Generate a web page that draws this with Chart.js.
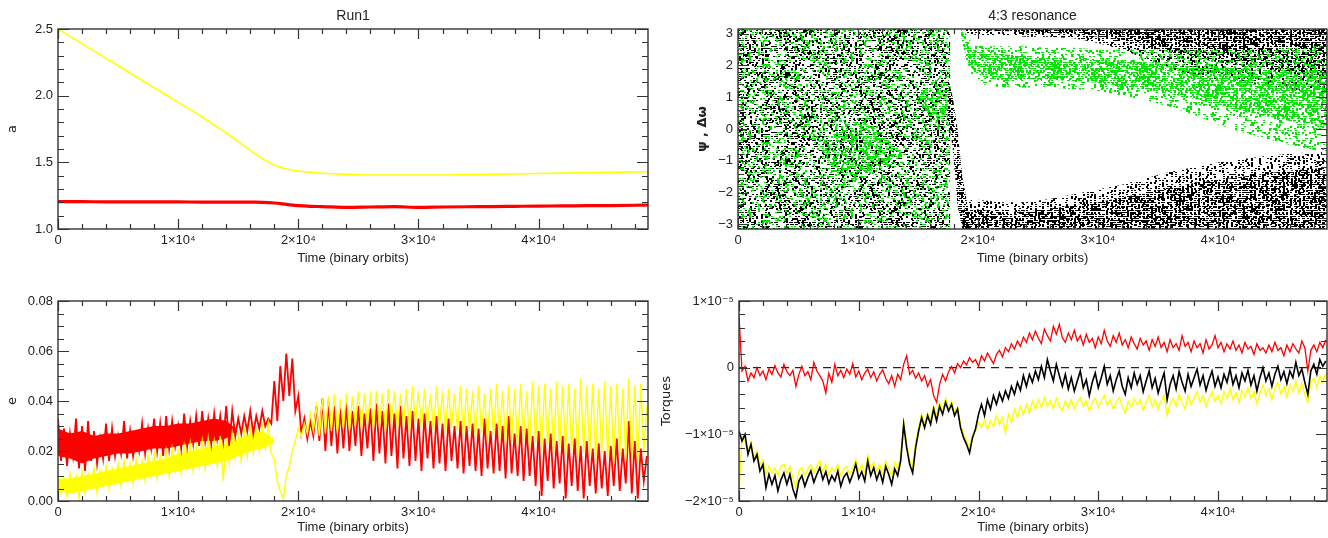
<!DOCTYPE html>
<html><head><meta charset="utf-8">
<script src="https://cdn.jsdelivr.net/npm/chart.js@4.4.1/dist/chart.umd.min.js"></script>
<style>
html,body{margin:0;padding:0;background:#fff;}
#wrap{position:relative;width:1328px;height:538px;overflow:hidden;background:#fff;}
canvas{position:absolute;}
</style></head><body><div id="wrap">
<canvas id="c1" width="664" height="269" style="left:0;top:0"></canvas>
<canvas id="c3" width="664" height="269" style="left:0;top:269px"></canvas>
<canvas id="c2" width="678" height="269" style="left:650px;top:0"></canvas>
<canvas id="c4" width="678" height="269" style="left:650px;top:269px"></canvas>
</div>
<script>
// ---------------- DATA ----------------
const xTickValues = [0, 10000, 20000, 30000, 40000];
const T_MAX = 49100;

// Panel 1: semi-major axis a
const aTime   = [0,2000,4000,6000,8000,10000,12000,13000,14000,15000,16000,17000,18000,19000,20000,21000,22000,24000,26000,28000,30000,32000,34000,36000,38000,40000,42000,44000,46000,48000,49100];
const aYellow = [2.50,2.39,2.28,2.17,2.06,1.95,1.84,1.78,1.72,1.655,1.59,1.53,1.48,1.45,1.435,1.425,1.418,1.41,1.405,1.405,1.405,1.405,1.408,1.41,1.413,1.416,1.419,1.422,1.425,1.428,1.43];
const aRed    = [1.205,1.205,1.204,1.204,1.203,1.203,1.202,1.202,1.202,1.202,1.201,1.20,1.195,1.185,1.175,1.17,1.168,1.162,1.165,1.168,1.162,1.165,1.167,1.168,1.17,1.172,1.173,1.175,1.176,1.178,1.18];
const aTicks = [1.0, 1.5, 2.0, 2.5];

// Panels 3 & 4 are sampled every 250 binary orbits
const sampleStep = 250;
const eRed = [
0.033,0.016,0.029,0.014,0.027,0.018,0.033,0.013,0.030,0.012,0.032,0.016,0.028,0.015,0.025,0.017,0.031,0.016,0.029,0.018,
0.026,0.019,0.032,0.017,0.028,0.018,0.026,0.020,0.031,0.019,0.029,0.021,0.033,0.020,0.031,0.018,0.034,0.021,0.032,0.022,
0.030,0.021,0.035,0.022,0.032,0.023,0.034,0.022,0.036,0.024,0.033,0.023,0.035,0.025,0.034,0.024,0.038,0.022,0.036,0.026,
0.033,0.027,0.034,0.028,0.036,0.027,0.034,0.029,0.036,0.030,0.033,0.031,0.048,0.032,0.054,0.040,0.059,0.042,0.057,0.036,
0.042,0.027,0.033,0.025,0.032,0.026,0.038,0.024,0.041,0.020,0.040,0.022,0.038,0.019,0.037,0.021,0.039,0.020,0.036,0.022,
0.038,0.018,0.035,0.021,0.037,0.016,0.039,0.019,0.036,0.015,0.039,0.018,0.035,0.013,0.038,0.017,0.034,0.014,0.036,0.016,
0.033,0.012,0.035,0.017,0.032,0.013,0.034,0.015,0.031,0.012,0.033,0.016,0.030,0.013,0.032,0.011,0.030,0.014,0.031,0.012,
0.029,0.010,0.033,0.013,0.028,0.011,0.031,0.012,0.030,0.009,0.034,0.011,0.027,0.010,0.030,0.008,0.029,0.010,0.026,0.006,
0.028,0.002,0.025,0.008,0.027,0.005,0.024,0.007,0.026,0.001,0.023,0.006,0.025,0.004,0.022,0.001,0.024,0.006,0.021,0.003,
0.023,0.005,0.020,0.002,0.022,0.006,0.025,0.004,0.021,0.007,0.032,0.003,0.024,0.001,0.021,0.008,0.018];
const eYellow = [
0.010,0.003,0.009,0.002,0.011,0.004,0.010,0.001,0.012,0.003,0.011,0.005,0.013,0.003,0.012,0.006,0.014,0.005,0.013,0.007,
0.015,0.006,0.016,0.008,0.015,0.007,0.017,0.009,0.016,0.008,0.018,0.010,0.019,0.009,0.018,0.011,0.020,0.010,0.021,0.012,
0.020,0.011,0.022,0.013,0.023,0.012,0.022,0.014,0.024,0.013,0.025,0.015,0.024,0.014,0.026,0.008,0.025,0.015,0.027,0.017,
0.026,0.016,0.028,0.018,0.029,0.019,0.028,0.020,0.030,0.021,0.031,0.019,0.017,0.008,0.004,0.001,0.010,0.014,0.020,0.024,
0.029,0.026,0.031,0.027,0.035,0.028,0.038,0.026,0.041,0.027,0.042,0.028,0.043,0.027,0.041,0.029,0.043,0.028,0.042,0.030,
0.044,0.029,0.043,0.031,0.042,0.029,0.044,0.030,0.043,0.028,0.045,0.031,0.044,0.029,0.043,0.030,0.045,0.028,0.046,0.031,
0.044,0.029,0.045,0.030,0.043,0.028,0.046,0.030,0.044,0.027,0.045,0.029,0.043,0.028,0.046,0.026,0.045,0.028,0.044,0.025,
0.046,0.027,0.043,0.024,0.045,0.026,0.047,0.025,0.044,0.023,0.046,0.024,0.045,0.022,0.047,0.024,0.044,0.021,0.048,0.023,
0.046,0.020,0.047,0.022,0.045,0.019,0.048,0.021,0.046,0.018,0.047,0.020,0.045,0.017,0.049,0.019,0.046,0.018,0.047,0.016,
0.045,0.019,0.048,0.017,0.046,0.015,0.047,0.018,0.045,0.016,0.049,0.017,0.046,0.015,0.047,0.019,0.038];
// solid cores of the fast-oscillating early phase of e
const eRedBandT  = [0,1000,2000,3000,4000,5000,6000,7000,8000,9000,10000,11000,12000,13000,14000,14800];
const eRedBandHi = [0.029,0.027,0.028,0.026,0.027,0.027,0.028,0.029,0.030,0.030,0.031,0.031,0.032,0.033,0.032,0.029];
const eRedBandLo = [0.018,0.017,0.015,0.017,0.018,0.019,0.019,0.020,0.021,0.021,0.022,0.023,0.024,0.024,0.025,0.028];
const eYelBandT  = [0,1000,2000,3000,4000,5000,6000,7000,8000,9000,10000,11000,12000,13000,14000,15000,16000,17000,17900];
const eYelBandHi = [0.009,0.009,0.010,0.011,0.012,0.013,0.014,0.015,0.016,0.017,0.019,0.020,0.021,0.022,0.023,0.025,0.027,0.028,0.025];
const eYelBandLo = [0.004,0.003,0.004,0.005,0.006,0.007,0.008,0.009,0.010,0.011,0.012,0.013,0.014,0.015,0.016,0.018,0.020,0.021,0.023];
const eTicks = [0, 0.02, 0.04, 0.06, 0.08];

// Torques in units of 1e-5
const torqueRed = [
0.78,-0.05,0.02,-0.20,-0.08,-0.15,0.00,-0.12,-0.05,-0.18,-0.02,-0.10,0.03,-0.08,-0.14,0.05,-0.06,-0.12,-0.04,-0.28,
-0.10,0.02,-0.12,-0.06,-0.18,0.08,-0.05,-0.12,-0.20,-0.38,-0.08,-0.22,0.05,-0.12,-0.04,-0.15,-0.02,-0.10,0.06,-0.14,
-0.05,-0.18,-0.08,-0.02,-0.15,-0.06,-0.20,-0.10,-0.03,-0.16,-0.24,-0.12,-0.28,-0.10,-0.18,0.05,0.18,-0.10,-0.04,-0.16,
-0.08,-0.20,-0.12,-0.28,-0.18,-0.42,-0.52,-0.25,-0.10,-0.20,-0.06,0.02,-0.08,0.06,0.00,0.10,0.04,0.15,0.08,0.12,
0.02,0.18,0.10,0.22,0.14,0.06,0.20,0.26,0.16,0.30,0.24,0.36,0.28,0.40,0.32,0.46,0.38,0.52,0.42,0.55,
0.44,0.36,0.58,0.48,0.40,0.62,0.50,0.65,0.45,0.38,0.52,0.42,0.56,0.40,0.48,0.34,0.50,0.38,0.44,0.30,
0.46,0.36,0.56,0.40,0.32,0.48,0.38,0.52,0.34,0.42,0.30,0.46,0.36,0.28,0.44,0.34,0.40,0.26,0.42,0.32,
0.46,0.30,0.38,0.24,0.42,0.30,0.36,0.26,0.48,0.32,0.38,0.24,0.40,0.30,0.36,0.22,0.42,0.28,0.34,0.48,
0.30,0.38,0.24,0.36,0.28,0.40,0.26,0.34,0.22,0.38,0.28,0.32,0.20,0.36,0.26,0.30,0.22,0.34,0.24,0.38,
0.26,0.30,0.18,0.34,0.24,0.36,0.28,0.22,0.40,0.30,-0.05,0.26,0.34,0.24,0.38,0.30,0.42];
const torqueBlack = [
-0.95,-1.10,-1.00,-1.30,-1.15,-1.40,-1.30,-1.55,-1.45,-1.80,-1.60,-1.75,-1.62,-1.85,-1.68,-1.58,-1.75,-1.60,-1.82,-1.95,
-1.70,-1.62,-1.78,-1.65,-1.55,-1.72,-1.60,-1.50,-1.68,-1.56,-1.74,-1.62,-1.70,-1.55,-1.78,-1.64,-1.58,-1.72,-1.60,-1.45,
-1.66,-1.56,-1.70,-1.40,-1.62,-1.50,-1.68,-1.55,-1.72,-1.48,-1.60,-1.75,-1.52,-1.62,-1.40,-0.85,-1.20,-1.45,-1.58,-1.20,
-0.95,-0.75,-0.90,-0.72,-0.85,-0.62,-0.80,-0.58,-0.70,-0.52,-0.65,-0.55,-0.72,-0.62,-0.90,-1.05,-1.15,-1.28,-1.05,-0.92,
-0.70,-0.55,-0.72,-0.48,-0.62,-0.42,-0.55,-0.38,-0.50,-0.35,-0.46,-0.28,-0.40,-0.22,-0.34,-0.12,-0.28,-0.10,-0.22,-0.05,
-0.18,0.02,-0.15,0.12,-0.05,-0.20,0.05,-0.12,-0.28,-0.10,-0.32,-0.15,-0.35,-0.20,-0.05,-0.30,-0.18,-0.42,-0.22,-0.08,
-0.30,-0.15,0.02,-0.25,-0.12,-0.35,-0.18,-0.05,-0.28,-0.40,-0.15,-0.30,-0.08,-0.25,-0.12,-0.36,-0.20,-0.05,-0.30,-0.16,
-0.38,-0.22,-0.08,-0.48,-0.25,-0.12,-0.32,-0.06,-0.22,-0.35,-0.10,-0.28,-0.15,-0.02,-0.26,-0.12,-0.34,-0.18,-0.05,-0.28,
-0.14,-0.30,-0.10,-0.22,-0.02,-0.25,-0.12,-0.30,-0.08,-0.20,-0.04,-0.26,-0.12,-0.35,-0.15,0.00,-0.20,-0.08,-0.28,-0.10,
0.02,-0.18,-0.06,-0.24,-0.05,-0.15,0.08,-0.12,-0.02,-0.22,-0.40,-0.05,0.05,-0.10,0.12,0.02,0.10];
const torqueYellow = [
-1.90,-1.05,-1.10,-1.25,-1.12,-1.35,-1.25,-1.45,-1.38,-1.60,-1.48,-1.58,-1.50,-1.62,-1.48,-1.45,-1.58,-1.48,-1.65,-1.80,
-1.55,-1.50,-1.62,-1.52,-1.45,-1.58,-1.48,-1.40,-1.55,-1.45,-1.60,-1.50,-1.56,-1.45,-1.62,-1.52,-1.48,-1.60,-1.50,-1.38,
-1.55,-1.45,-1.58,-1.32,-1.50,-1.42,-1.55,-1.45,-1.58,-1.40,-1.50,-1.62,-1.42,-1.52,-1.32,-0.82,-1.12,-1.38,-1.48,-1.12,
-0.90,-0.70,-0.85,-0.68,-0.80,-0.58,-0.72,-0.52,-0.62,-0.46,-0.60,-0.50,-0.66,-0.60,-0.85,-1.00,-1.10,-1.20,-1.00,-0.95,
-0.82,-0.90,-0.78,-0.92,-0.80,-0.88,-0.72,-0.85,-0.75,-0.98,-0.70,-0.82,-0.62,-0.75,-0.58,-0.70,-0.55,-0.68,-0.50,-0.62,
-0.48,-0.60,-0.45,-0.58,-0.50,-0.62,-0.46,-0.58,-0.65,-0.50,-0.60,-0.48,-0.62,-0.52,-0.45,-0.58,-0.50,-0.65,-0.52,-0.46,
-0.60,-0.50,-0.42,-0.56,-0.48,-0.62,-0.52,-0.45,-0.58,-0.68,-0.50,-0.60,-0.46,-0.56,-0.48,-0.64,-0.52,-0.42,-0.58,-0.48,
-0.62,-0.50,-0.42,-0.72,-0.54,-0.46,-0.58,-0.40,-0.52,-0.62,-0.42,-0.55,-0.46,-0.36,-0.52,-0.42,-0.58,-0.46,-0.36,-0.50,
-0.42,-0.54,-0.36,-0.46,-0.32,-0.48,-0.38,-0.52,-0.34,-0.44,-0.30,-0.46,-0.36,-0.54,-0.38,-0.26,-0.42,-0.32,-0.48,-0.30,
-0.22,-0.40,-0.28,-0.44,-0.26,-0.36,-0.20,-0.38,-0.24,-0.40,-0.52,-0.22,-0.16,-0.30,-0.12,-0.22,-0.08];
const torqueTicks = [-2, -1, 0, 1];

// Panel 2: extents of the dot clouds of psi (black) and delta-omega (green), in radians
const cloudT = [0, 17700];
const gPatch1T = [7000, 8500, 10000, 11500, 13000];
const gPatch1Hi = [-0.5, 0.1, 0.3, 0.0, -0.5];
const gPatch1Lo = [-0.9, -1.4, -1.6, -1.3, -0.9];
const gPatch2T = [15000, 16000, 17000, 17700];
const gPatch2Hi = [1.0, 1.5, 1.6, 1.3];
const gPatch2Lo = [0.7, 0.4, 0.3, 0.4];
const trailT  = [17500, 17900, 18300, 18700, 19100];
const trailHi = [1.6, 1.0, 0.0, -1.5, -2.3];
const trailLo = [0.4, -0.6, -2.4, -3.1416, -3.1416];
const lowT  = [18700,19500,20500,22000,24000,26000,28000,30000,32000,34000,36000,38000,40000,42000,44000,46000,48000,49100];
const lowHi = [-2.6,-2.2,-2.25,-2.3,-2.3,-2.2,-2.05,-1.9,-1.75,-1.55,-1.35,-1.2,-1.05,-0.95,-0.85,-0.78,-0.72,-0.7];
const lowCoreHi = [-2.8,-2.5,-2.55,-2.6,-2.6,-2.5,-2.4,-2.3,-2.15,-2.0,-1.85,-1.7,-1.6,-1.5,-1.4,-1.3,-1.25,-1.2];
const upT  = [18900,20000,22000,24000,26000,28000,30000,32000,33000,34000,36000,38000,40000,42000,44000,46000,48000,49100];
const upLo = [3.0,2.95,2.95,2.9,2.9,2.85,2.7,2.5,2.35,2.2,1.9,1.7,1.55,1.45,1.35,1.25,1.15,1.1];
const upCoreLo = [3.12,3.1,3.08,3.05,3.02,2.98,2.9,2.8,2.7,2.6,2.4,2.25,2.1,2.0,1.9,1.8,1.7,1.65];
const grT  = [18600,19000,19500,20500,22000,24000,26000,28000,30000,32000,34000,36000,38000,40000,42000,44000,46000,48000,49100];
const grHi = [3.14,3.0,2.7,2.6,2.6,2.6,2.55,2.55,2.5,2.5,2.5,2.5,2.5,2.5,2.5,2.5,2.55,2.6,2.6];
const grLo = [2.9,2.2,1.7,1.4,1.3,1.3,1.3,1.25,1.2,1.05,0.9,0.7,0.45,0.15,-0.1,-0.3,-0.5,-0.65,-0.7];
const grCoreHi = [3.1,2.9,2.5,2.4,2.35,2.3,2.25,2.2,2.2,2.15,2.1,2.05,2.0,1.95,1.9,1.85,1.8,1.8,1.8];
const grCoreLo = [2.95,2.3,1.9,1.6,1.55,1.55,1.55,1.5,1.45,1.35,1.25,1.1,0.95,0.75,0.55,0.4,0.25,0.15,0.1];
const psiTicks = [-3,-2,-1,0,1,2,3];

// ---------------- STYLE / HELPERS ----------------
Chart.defaults.font.family = "'Liberation Sans','DejaVu Sans',Arial,sans-serif";
Chart.defaults.font.size = 13;
Chart.defaults.color = '#222';
Chart.defaults.animation = false;

const PI = Math.PI;
const sampleTimes = eRed.map((_, i) => i * sampleStep);
const pts = (xs, ys) => ys.map((y, i) => ({x: xs[i], y}));

function xAxis(h){
  return {type:'linear', min:0, max:T_MAX,
    grid:{display:false, drawTicks:false}, border:{display:false},
    ticks:{padding:4, autoSkip:false, maxRotation:0, color:'#222',
      callback:v => v === 0 ? '0' : (v/1e4) + '×10⁴'},
    afterBuildTicks: s => { s.ticks = xTickValues.map(v => ({value:v})); },
    afterFit: s => { s.height = h; }};
}
function yAxis(w, min, max, vals, fmt){
  return {type:'linear', min, max,
    grid:{display:false, drawTicks:false}, border:{display:false},
    ticks:{padding:5, autoSkip:false, color:'#222', callback:v => fmt(v)},
    afterBuildTicks: s => { s.ticks = vals.map(v => ({value:v})); },
    afterFit: s => { s.width = w; }};
}

const idl = {
  id:'idl',
  afterDatasetsDraw(chart, args, o){
    const {ctx, chartArea:a, scales:{x, y}} = chart;
    ctx.save();
    ctx.strokeStyle = '#333'; ctx.lineWidth = 1.4;
    ctx.strokeRect(a.left, a.top, a.right - a.left, a.bottom - a.top);
    ctx.beginPath(); ctx.lineWidth = 1.2;
    for (let k = 0; k * o.xMinor <= x.max; k++){
      const px = Math.round(x.getPixelForValue(k * o.xMinor)) + 0.5;
      const L = (k % o.xRatio === 0) ? 10 : 5;
      ctx.moveTo(px, a.bottom); ctx.lineTo(px, a.bottom - L);
      ctx.moveTo(px, a.top); ctx.lineTo(px, a.top + L);
    }
    const k0 = Math.ceil(y.min / o.yMinor - 1e-6), k1 = Math.floor(y.max / o.yMinor + 1e-6);
    for (let k = k0; k <= k1; k++){
      const py = Math.round(y.getPixelForValue(k * o.yMinor)) + 0.5;
      const L = (((k % o.yRatio) + o.yRatio) % o.yRatio === 0) ? 11 : 6;
      ctx.moveTo(a.left, py); ctx.lineTo(a.left + L, py);
      ctx.moveTo(a.right, py); ctx.lineTo(a.right - L, py);
    }
    ctx.stroke();
    ctx.fillStyle = '#222'; ctx.textAlign = 'center'; ctx.textBaseline = 'middle';
    const cx = (a.left + a.right) / 2, cy = (a.top + a.bottom) / 2;
    if (o.title){ ctx.font = "14px 'Liberation Sans', Arial, sans-serif"; ctx.fillText(o.title, cx, o.titleY); }
    ctx.font = "13px 'Liberation Sans', Arial, sans-serif";
    ctx.fillText(o.xTitle, cx, o.xTitleY);
    ctx.translate(o.yTitleX, cy); ctx.rotate(-PI/2);
    ctx.font = (o.yBold ? 'bold ' : '') + "13px 'DejaVu Sans', 'Liberation Sans', sans-serif";
    ctx.fillText(o.yTitle, 0, 0);
    ctx.restore();
  }
};

function orderBottomUp(list){ list.forEach((d, i) => { d.order = list.length - i; }); return list; }
function lineDs(data, color, width){
  return {data, borderColor:color, borderWidth:width, pointRadius:0, tension:0, fill:false};
}
function area(data, fill, bg){
  return {data, fill, backgroundColor:bg, borderWidth:0, borderColor:'rgba(0,0,0,0)', pointRadius:0, tension:0};
}
const NONE = 'rgba(0,0,0,0)';
function baseOptions(pad, plug){
  return {responsive:false, animation:false, devicePixelRatio:1,
    layout:{padding:pad},
    plugins:{legend:{display:false}, tooltip:{enabled:false}, idl:plug}};
}

// ---------------- PANEL 1: a ----------------
new Chart(document.getElementById('c1'), {
  type:'line',
  data:{datasets: orderBottomUp([
    Object.assign(lineDs(pts(aTime, aYellow), '#ffff00', 1.6), {cubicInterpolationMode:'monotone'}),
    Object.assign(lineDs(pts(aTime, aRed), '#ff0000', 3.2), {cubicInterpolationMode:'monotone'})
  ])},
  options: Object.assign(baseOptions({left:0, top:29, right:16, bottom:0},
    {xMinor:2000, xRatio:5, yMinor:0.1, yRatio:5, title:'Run1', titleY:16,
     xTitle:'Time (binary orbits)', xTitleY:258, yTitle:'a', yTitleX:13}),
    {scales:{x:xAxis(40), y:yAxis(58, 1.0, 2.5, aTicks, v => v.toFixed(1))}}),
  plugins:[idl]
});

// ---------------- PANEL 3: e ----------------
new Chart(document.getElementById('c3'), {
  type:'line',
  data:{datasets: orderBottomUp([
    area(pts(eYelBandT, eYelBandHi), '+1', '#ffff00'), area(pts(eYelBandT, eYelBandLo), false, NONE),
    area(pts(eRedBandT, eRedBandHi), '+1', '#ff0000'), area(pts(eRedBandT, eRedBandLo), false, NONE),
    lineDs(pts(sampleTimes, eRed), '#ff0000', 1.8),
    lineDs(pts(sampleTimes, eYellow), '#ffff00', 1.4)
  ])},
  options: Object.assign(baseOptions({left:0, top:32, right:16, bottom:0},
    {xMinor:2000, xRatio:5, yMinor:0.005, yRatio:4,
     xTitle:'Time (binary orbits)', xTitleY:258, yTitle:'e', yTitleX:13}),
    {scales:{x:xAxis(37), y:yAxis(58, 0, 0.08, eTicks, v => v.toFixed(2))}}),
  plugins:[idl]
});

// ---------------- PANEL 4: torques ----------------
new Chart(document.getElementById('c4'), {
  type:'line',
  data:{datasets: orderBottomUp([
    Object.assign(lineDs([{x:0,y:0},{x:T_MAX,y:0}], '#222', 1.2), {borderDash:[8,6]}),
    lineDs(pts(sampleTimes, torqueRed), '#ff0000', 1.3),
    lineDs(pts(sampleTimes, torqueYellow), '#ffff00', 1.4),
    lineDs(pts(sampleTimes, torqueBlack), '#000000', 1.6)
  ])},
  options: Object.assign(baseOptions({left:0, top:32, right:1, bottom:0},
    {xMinor:2000, xRatio:5, yMinor:0.2, yRatio:5,
     xTitle:'Time (binary orbits)', xTitleY:258, yTitle:'Torques', yTitleX:17}),
    {scales:{x:xAxis(37), y:yAxis(89, -2, 1, torqueTicks,
      v => v === 0 ? '0' : (v < 0 ? '−' : '') + Math.abs(v) + '×10⁻⁵')}}),
  plugins:[idl]
});

// ---------------- PANEL 2: resonant angles ----------------
function hash(x, y, s){
  let n = Math.imul(x, 73856093) ^ Math.imul(y, 19349663) ^ Math.imul(s, 83492791);
  n = Math.imul(n ^ (n >>> 13), 1274126177); n ^= n >>> 16;
  return (n >>> 0) / 4294967296;
}
const ctx2 = document.getElementById('c2').getContext('2d');
// speckle texture used as a fill style for the dot clouds
function texture(color, w, h, seed, density, stripe){
  const c = document.createElement('canvas'); c.width = w; c.height = h;
  const g = c.getContext('2d'); g.fillStyle = color;
  for (let yy = 0; yy < h; yy += 2) for (let xx = 0; xx < w; xx += 2){
    let d = density;
    if (stripe) d = (xx % stripe[0]) < stripe[1] ? density : density * stripe[2];
    const ox = hash(xx + 5, yy + 1, seed) < 0.5 ? 0 : 1;
    if (hash(xx, yy, seed) < d) g.fillRect(xx + ox, yy, 2, hash(xx + 2, yy + 9, seed) < 0.6 ? 1 : 2);
  }
  return ctx2.createPattern(c, 'repeat');
}
const texBlack   = texture('#000', 94, 86, 3, 0.44);
const texGreen   = texture('#00e400', 102, 78, 11, 0.22);
const texGreenD  = texture('#00e400', 90, 70, 17, 0.45);
const texBlackD  = texture('#000', 88, 74, 23, 0.75);
const texStripe  = texture('#000', 96, 90, 29, 0.65, [4, 2, 0.15]);
const texStripeD = texture('#000', 92, 84, 31, 0.85, [4, 2, 0.45]);
const texGreenB  = texture('#00e400', 98, 82, 37, 0.32);
const texGreenC  = texture('#00e400', 86, 76, 41, 0.6);

const p2 = [];
p2.push(area(pts(cloudT, [PI, PI]), {value:-PI}, texBlack));
p2.push(area(pts(cloudT, [PI, PI]), {value:-PI}, texGreen));
p2.push(area(pts(gPatch1T, gPatch1Hi), '+1', texGreenD), area(pts(gPatch1T, gPatch1Lo), false, NONE));
p2.push(area(pts(gPatch2T, gPatch2Hi), '+1', texGreenD), area(pts(gPatch2T, gPatch2Lo), false, NONE));
p2.push(area(pts(trailT, trailHi), '+1', texBlackD), area(pts(trailT, trailLo), false, NONE));
p2.push(area(pts(lowT, lowHi), {value:-PI}, texStripe));
p2.push(area(pts(lowT, lowCoreHi), {value:-PI}, texStripeD));
p2.push(area(pts(upT, upLo), {value:PI}, texStripe));
p2.push(area(pts(upT, upCoreLo), {value:PI}, texStripeD));
p2.push(area(pts(grT, grHi), '+1', texGreenB), area(pts(grT, grLo), false, NONE));
p2.push(area(pts(grT, grCoreHi), '+1', texGreenC), area(pts(grT, grCoreLo), false, NONE));

new Chart(ctx2, {
  type:'line',
  data:{datasets: orderBottomUp(p2)},
  options: Object.assign(baseOptions({left:0, top:29, right:1, bottom:0},
    {xMinor:2000, xRatio:5, yMinor:0.2, yRatio:5, title:'4:3 resonance', titleY:16,
     xTitle:'Time (binary orbits)', xTitleY:258, yTitle:'ψ , Δω', yTitleX:53, yBold:true}),
    {scales:{x:xAxis(40), y:yAxis(88, -PI, PI, psiTicks, v => String(v).replace('-', '−'))}}),
  plugins:[idl]
});
</script>
</body></html>
